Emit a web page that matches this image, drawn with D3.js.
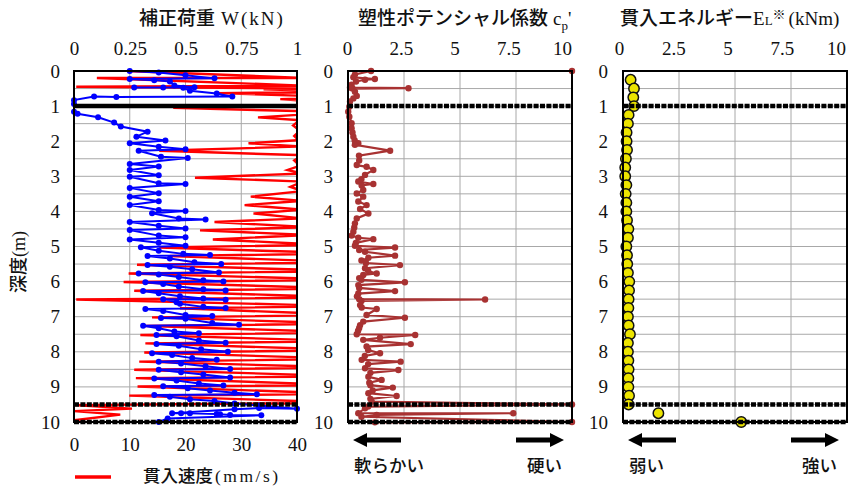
<!DOCTYPE html>
<html>
<head>
<meta charset="utf-8">
<script src="https://cdn.jsdelivr.net/npm/d3@7"></script>
<style>
  body { margin: 0; background: #fff; }
  svg { display: block; }
</style>
</head>
<body>
<svg width="848" height="488"></svg>
<script>
// --- datos ---
const depthTicks = [0, 1, 2, 3, 4, 5, 6, 7, 8, 9, 10];
const wTicks = [0, 0.25, 0.5, 0.75, 1];
const speedTicks = [0, 10, 20, 30, 40];
const cpTicks = [0, 2.5, 5, 7.5, 10];
const elTicks = [0, 2.5, 5, 7.5, 10];
const layerDepths = [1, 9.5, 10];

// 補正荷重 W (kN): [depth, W]
const loadW = [
  [0,0.25],[0.04,0.38],[0.12,0.5],[0.21,0.63],[0.23,0.25],[0.26,0.36],[0.3,0.43],[0.41,0.45],
  [0.46,0.54],[0.47,0.27],[0.47,0.40],[0.48,0.49],[0.56,0.52],[0.64,0.64],[0.73,0.71],[0.74,0.19],
  [0.73,0.09],[0.83,0],[0.94,0],[1.16,0],[1.22,0.016],[1.32,0.108],[1.47,0.18],[1.58,0.21],
  [1.73,0.33],[1.87,0.28],[1.98,0.41],[2.06,0.25],[2.16,0.38],[2.23,0.5],[2.27,0.29],[2.44,0.39],
  [2.48,0.51],[2.65,0.25],[2.72,0.38],[2.82,0.25],[2.97,0.38],[3.01,0.25],[3.2,0.38],[3.22,0.5],
  [3.33,0.25],[3.48,0.38],[3.58,0.25],[3.71,0.38],[3.82,0.25],[3.96,0.38],[3.99,0.5],[4.05,0.35],
  [4.2,0.47],[4.23,0.59],[4.3,0.25],[4.41,0.38],[4.49,0.5],[4.53,0.25],[4.69,0.38],[4.74,0.5],
  [4.8,0.25],[4.89,0.38],[4.98,0.5],[5.02,0.3],[5.12,0.38],[5.21,0.49],[5.24,0.61],[5.27,0.33],
  [5.34,0.43],[5.45,0.54],[5.5,0.66],[5.53,0.33],[5.58,0.43],[5.65,0.53],[5.74,0.65],[5.77,0.29],
  [5.8,0.38],[5.87,0.47],[5.96,0.58],[6.0,0.67],[6.02,0.32],[6.07,0.40],[6.14,0.47],[6.22,0.58],
  [6.25,0.68],[6.27,0.31],[6.33,0.38],[6.42,0.475],[6.48,0.58],[6.52,0.68],[6.5,0.40],[6.59,0.46],
  [6.63,0.475],[6.72,0.58],[6.75,0.68],[6.78,0.32],[6.84,0.40],[6.95,0.50],[6.98,0.62],[7.04,0.39],
  [7.06,0.50],[7.18,0.62],[7.23,0.74],[7.26,0.31],[7.33,0.38],[7.42,0.45],[7.47,0.56],[7.52,0.37],
  [7.56,0.46],[7.68,0.56],[7.74,0.68],[7.78,0.37],[7.83,0.47],[7.93,0.57],[8.0,0.69],[8.04,0.35],
  [8.09,0.44],[8.18,0.53],[8.23,0.64],[8.28,0.38],[8.33,0.48],[8.41,0.59],[8.49,0.70],[8.51,0.38],
  [8.58,0.48],[8.65,0.58],[8.73,0.70],[8.76,0.36],[8.82,0.46],[8.9,0.56],[8.96,0.67],[8.98,0.40],
  [9.04,0.51],[9.1,0.61],[9.17,0.72],[9.21,0.82],[9.23,0.36],[9.28,0.43],[9.35,0.52],[9.4,0.63],
  [9.47,0.72],[9.53,0.83],[9.62,1.0],[9.6,0.83],[9.64,0.72],[9.75,0.44],[9.75,0.48],[9.75,0.52],
  [9.77,0.64],[9.78,0.655],[9.8,0.70],[9.81,0.84],[9.9,0.42],[10,0.38]
];

// 貫入速度 (mm/s): [depth, speed]  (valores > 40 salen del gráfico)
const speed = [
  [0,9.5],[0.2,42],[0.2,4.1],[0.42,42],[0.45,0.4],[0.5,45],[0.52,34],[0.6,50],[0.63,25.6],[0.75,50],
  [0.8,37],[0.9,45],[0.97,40.5],[1.05,17.8],[1.15,42],[1.25,40],[1.32,33],[1.4,40.5],[1.55,39.3],
  [1.7,40.5],[1.85,39.5],[1.97,40.3],[2.06,31.3],[2.15,41],[2.27,15.3],[2.4,41],[2.55,39.5],[2.7,40.5],
  [2.82,38.3],[2.92,41],[3.04,21.7],[3.15,41],[3.3,38.8],[3.42,41],[3.58,31.7],[3.7,41],[3.82,30.6],
  [3.95,41],[4.06,32.2],[4.2,41],[4.3,25.2],[4.45,42],[4.54,22.6],[4.67,42],[4.8,24.9],[4.95,45],
  [5.03,15.3],[5.2,50],[5.27,17.2],[5.45,50],[5.52,11.3],[5.7,50],[5.77,9.8],[5.95,50],[6.01,8.9],
  [6.2,50],[6.26,10.8],[6.45,50],[6.51,0.4],[6.7,50],[6.76,19],[6.95,50],[7.02,14],[7.2,50],
  [7.26,12.2],[7.45,50],[7.52,11.9],[7.7,50],[7.76,12.8],[7.95,50],[8.02,12.6],[8.2,50],[8.28,11.7],
  [8.45,50],[8.51,10.8],[8.7,50],[8.75,11.1],[8.95,50],[8.99,11.4],[9.2,50],[9.25,9.9],[9.45,50],
  [9.52,0],[9.62,10.4],[9.69,0],[9.79,8.3],[9.95,0]
];

// 塑性ポテンシャル係数 cp': [depth, value]
const cp = [
  [0,10],[0,1.03],[0.1,0.31],[0.18,0.24],[0.23,1.2],[0.25,0.76],[0.3,0.36],[0.39,0.16],[0.47,0.09],
  [0.49,2.7],[0.5,0.2],[0.59,0.31],[0.71,0.39],[0.78,0.24],[0.87,0.09],[1.02,0.06],[1.16,0.01],
  [1.3,0.06],[1.49,0.16],[1.63,0.16],[1.75,0.2],[1.87,0.24],[1.98,0.3],[2.06,0.46],[2.1,0.31],
  [2.27,1.88],[2.41,0.49],[2.55,0.5],[2.68,0.39],[2.73,0.83],[2.82,1.13],[2.96,0.76],[3.08,0.6],
  [3.15,0.46],[3.22,1.13],[3.26,0.61],[3.39,0.68],[3.49,0.39],[3.58,0.68],[3.72,0.46],[3.82,0.83],
  [3.93,0.54],[4.06,0.91],[4.2,0.39],[4.34,0.31],[4.46,0.28],[4.58,0.24],[4.69,0.16],[4.75,0.46],
  [4.79,1.13],[4.9,0.35],[4.98,0.31],[5.03,2.1],[5.1,0.5],[5.15,0.76],[5.26,2.1],[5.32,0.91],
  [5.4,0.6],[5.47,0.8],[5.53,2.32],[5.62,0.76],[5.7,0.9],[5.77,1.28],[5.81,0.68],[5.9,0.5],
  [5.95,0.6],[6.02,2.54],[6.1,0.46],[6.18,0.5],[6.27,2.1],[6.34,0.46],[6.42,0.4],[6.5,0.5],
  [6.51,6.12],[6.55,0.6],[6.67,0.54],[6.74,0.61],[6.78,1.28],[6.95,0.83],[7.03,2.54],[7.14,0.68],
  [7.24,0.54],[7.32,0.5],[7.4,0.45],[7.5,0.39],[7.52,3.0],[7.6,1.43],[7.66,0.68],[7.78,2.8],
  [7.85,0.83],[7.95,0.9],[8.04,1.43],[8.12,0.75],[8.23,0.61],[8.28,2.35],[8.35,0.9],[8.47,0.76],
  [8.52,2.25],[8.6,1.0],[8.71,0.91],[8.8,1.5],[8.88,0.95],[8.95,1.0],[9.02,2.0],[9.1,1.1],
  [9.18,0.91],[9.26,2.17],[9.34,1.0],[9.42,1.06],[9.5,10],[9.56,0.9],[9.61,0.76],[9.75,0.46],
  [9.75,7.38],[9.8,1.28],[9.85,0.6],[10,10],[10.01,1.2]
];

// 貫入エネルギー EL (kNm)
const energyDepths = [0.25,0.5,0.75,1,1.25,1.5,1.75,2,2.25,2.5,2.75,3,3.25,3.5,3.75,4,4.25,4.5,4.75,
  5,5.25,5.5,5.75,6,6.25,6.5,6.75,7,7.25,7.5,7.75,8,8.25,8.5,8.75,9,9.25,9.5,9.75,10];
const energyValues = [0.34,0.49,0.46,0.49,0.25,0.22,0.16,0.16,0.18,0.13,0.10,0.10,0.15,0.12,0.15,0.15,
  0.18,0.24,0.22,0.15,0.18,0.19,0.22,0.28,0.27,0.25,0.24,0.22,0.25,0.31,0.22,0.22,0.24,0.25,0.24,
  0.24,0.27,0.25,1.58,5.28];

const svg = d3.select("svg");
const serif = "'Liberation Serif', 'Times New Roman', serif";
const gothic = "'Noto Sans CJK JP', 'Noto Sans', sans-serif";

const y = d3.scaleLinear().domain([0, 10]).range([71, 422]);

const panels = [
  { x0: 74, x1: 297, ticks: wTicks, lab: [74, 297] },
  { x0: 348, x1: 572, ticks: cpTicks, lab: [347, 562] },
  { x0: 623, x1: 847, ticks: elTicks, lab: [619, 836] }
];
panels[0].x = d3.scaleLinear().domain([0, 1]).range([panels[0].x0, panels[0].x1]);
panels[1].x = d3.scaleLinear().domain([0, 10]).range([panels[1].x0, panels[1].x1]);
panels[2].x = d3.scaleLinear().domain([0, 10]).range([panels[2].x0, panels[2].x1]);
panels.forEach((p) => { p.labX = p.x.copy().range(p.lab); });
const xSpeed = d3.scaleLinear().domain([0, 40]).range([panels[0].x0, panels[0].x1]);

const fmt = (d) => String(d);

panels.forEach((p, i) => {
  const g = svg.append("g");
  // grid
  g.append("g").selectAll("line")
    .data(d3.range(0.5, 10, 0.5))
    .join("line")
    .attr("x1", p.x0).attr("x2", p.x1)
    .attr("y1", (d) => y(d)).attr("y2", (d) => y(d))
    .attr("stroke", "#a8a8a8").attr("stroke-width", 1);
  g.append("g").selectAll("line")
    .data(p.ticks.slice(1, -1))
    .join("line")
    .attr("x1", (d) => p.x(d)).attr("x2", (d) => p.x(d))
    .attr("y1", y(0)).attr("y2", y(10))
    .attr("stroke", "#a8a8a8").attr("stroke-width", 1);

  // ejes arriba e izquierda (solo etiquetas)
  const top = d3.axisTop(p.labX).tickValues(p.ticks).tickFormat(fmt).tickSize(0).tickPadding(16);
  g.append("g").attr("transform", `translate(0,${y(0)})`).call(top)
    .call((a) => a.select(".domain").remove())
    .selectAll("text").attr("font-family", serif).attr("font-size", 19).attr("fill", "#111");

  const left = d3.axisLeft(y).tickValues(depthTicks).tickFormat(fmt).tickSize(0).tickPadding(i === 0 ? 14 : 15);
  g.append("g").attr("transform", `translate(${p.x0},0)`).call(left)
    .call((a) => a.select(".domain").remove())
    .selectAll("text").attr("font-family", serif).attr("font-size", 19).attr("fill", "#111");

  p.g = g;
});

// clip para el panel 1
svg.append("clipPath").attr("id", "clip1")
  .append("rect").attr("x", panels[0].x0).attr("y", y(0))
  .attr("width", panels[0].x1 - panels[0].x0).attr("height", y(10) - y(0));

// eje inferior de velocidad
svg.append("g").attr("transform", `translate(0,${y(10)})`)
  .call(d3.axisBottom(xSpeed).tickValues(speedTicks).tickSize(0).tickPadding(16))
  .call((a) => a.select(".domain").remove())
  .selectAll("text").attr("font-family", serif).attr("font-size", 19).attr("fill", "#111");

// Panel 1: velocidad (rojo) y carga (azul)
const p1 = panels[0];
p1.g.append("path")
  .datum(speed)
  .attr("clip-path", "url(#clip1)")
  .attr("fill", "none").attr("stroke", "#ff0000").attr("stroke-width", 2.4)
  .attr("d", d3.line().x((d) => xSpeed(d[1])).y((d) => y(d[0])));

p1.g.append("path")
  .datum(loadW)
  .attr("fill", "none").attr("stroke", "#0000ff").attr("stroke-width", 2)
  .attr("d", d3.line().x((d) => p1.x(d[1])).y((d) => y(d[0])));
p1.g.append("g").selectAll("circle")
  .data(loadW).join("circle")
  .attr("cx", (d) => p1.x(d[1])).attr("cy", (d) => y(d[0]))
  .attr("r", 3).attr("fill", "#0000ff");

// Panel 2: cp'
const p2 = panels[1];
p2.g.append("path")
  .datum(cp)
  .attr("fill", "none").attr("stroke", "#a83232").attr("stroke-width", 2.2)
  .attr("d", d3.line().x((d) => p2.x(d[1])).y((d) => y(d[0])));
p2.g.append("g").selectAll("circle")
  .data(cp).join("circle")
  .attr("cx", (d) => p2.x(d[1])).attr("cy", (d) => y(d[0]))
  .attr("r", 3.2).attr("fill", "#a83232");

// Panel 3: EL
const p3 = panels[2];
p3.g.append("g").selectAll("circle")
  .data(energyDepths).join("circle")
  .attr("cx", (d, i) => p3.x(energyValues[i])).attr("cy", (d) => y(d))
  .attr("r", 5.2).attr("fill", "#ece400").attr("stroke", "#111").attr("stroke-width", 1.5);

// líneas de estrato gruesas + marcos
panels.forEach((p, i) => {
  p.g.append("g").selectAll("line")
    .data(layerDepths).join("line")
    .attr("x1", p.x0).attr("x2", p.x1)
    .attr("y1", (d) => y(d)).attr("y2", (d) => y(d))
    .attr("stroke", "#000").attr("stroke-width", 4.5)
    .attr("stroke-dasharray", (d) => (i === 0 && d === 1 ? null : "5,1.4"));
  p.g.append("rect")
    .attr("x", p.x0).attr("y", y(0))
    .attr("width", p.x1 - p.x0).attr("height", y(10) - y(0))
    .attr("fill", "none").attr("stroke", "#000").attr("stroke-width", 2);
});

// títulos
const t1 = svg.append("text").attr("x", 139).attr("y", 25).attr("font-size", 19).attr("fill", "#111");
t1.append("tspan").attr("font-family", gothic).attr("font-weight", 500).text("補正荷重");
t1.append("tspan").attr("font-family", serif).attr("dx", 6).attr("letter-spacing", 2).text("W(kN)");

const t2 = svg.append("text").attr("x", 358).attr("y", 25).attr("font-size", 19).attr("fill", "#111");
t2.append("tspan").attr("font-family", gothic).attr("font-weight", 500).text("塑性ポテンシャル係数");
t2.append("tspan").attr("font-family", serif).attr("dx", 5).text("c");
t2.append("tspan").attr("font-family", serif).attr("font-size", 13).attr("dy", 5).text("p");
t2.append("tspan").attr("font-family", serif).attr("dy", -5).text("'");

const t3 = svg.append("text").attr("x", 620).attr("y", 25).attr("font-size", 19).attr("fill", "#111");
t3.append("tspan").attr("font-family", gothic).attr("font-weight", 500).text("貫入エネルギー");
t3.append("tspan").attr("font-family", serif).text("E");
t3.append("tspan").attr("font-family", serif).attr("font-size", 13).text("L");
t3.append("tspan").attr("font-family", gothic).attr("font-size", 13).attr("dy", -6).text("※");
t3.append("tspan").attr("font-family", serif).attr("dy", 6).attr("dx", 3).text("(kNm)");

// título eje y
const yt = svg.append("text")
  .attr("transform", "translate(25,262) rotate(-90)")
  .attr("text-anchor", "middle").attr("font-size", 18).attr("fill", "#111");
yt.append("tspan").attr("font-family", gothic).attr("font-weight", 500).text("深度");
yt.append("tspan").attr("font-family", serif).text("(m)");

// leyenda
svg.append("line").attr("x1", 75).attr("x2", 111).attr("y1", 477).attr("y2", 477)
  .attr("stroke", "#ff0000").attr("stroke-width", 3.5);
const lg = svg.append("text").attr("x", 143).attr("y", 482).attr("font-size", 17.5).attr("fill", "#111");
lg.append("tspan").attr("font-family", gothic).attr("font-weight", 500).text("貫入速度");
lg.append("tspan").attr("font-family", serif).attr("dx", 2).attr("letter-spacing", 2.5).text("(mm/s)");

// flechas y textos
function arrow(tip, tail, yy) {
  const dir = tail > tip ? 1 : -1;
  const hb = tip + dir * 14;
  const pts = [[tip, yy], [hb, yy - 7], [hb, yy - 2.5], [tail, yy - 2.5], [tail, yy + 2.5], [hb, yy + 2.5], [hb, yy + 7]];
  svg.append("path").attr("d", d3.line()(pts) + "Z").attr("fill", "#000");
}
const labels = [["軟らかい", "硬い"], ["弱い", "強い"]];
[panels[1], panels[2]].forEach((p, i) => {
  arrow(p.x0 + 5, p.x0 + 53, 440);
  arrow(p.x1 - 8, p.x1 - 56, 440);
  svg.append("text").attr("x", p.x0 + 6).attr("y", 472)
    .attr("font-family", gothic).attr("font-weight", 500)
    .attr("font-size", 17.5).attr("fill", "#111").text(labels[i][0]);
  svg.append("text").attr("x", p.x1 - 10).attr("y", 472).attr("text-anchor", "end")
    .attr("font-family", gothic).attr("font-weight", 500)
    .attr("font-size", 17.5).attr("fill", "#111").text(labels[i][1]);
});
</script>
</body>
</html>
